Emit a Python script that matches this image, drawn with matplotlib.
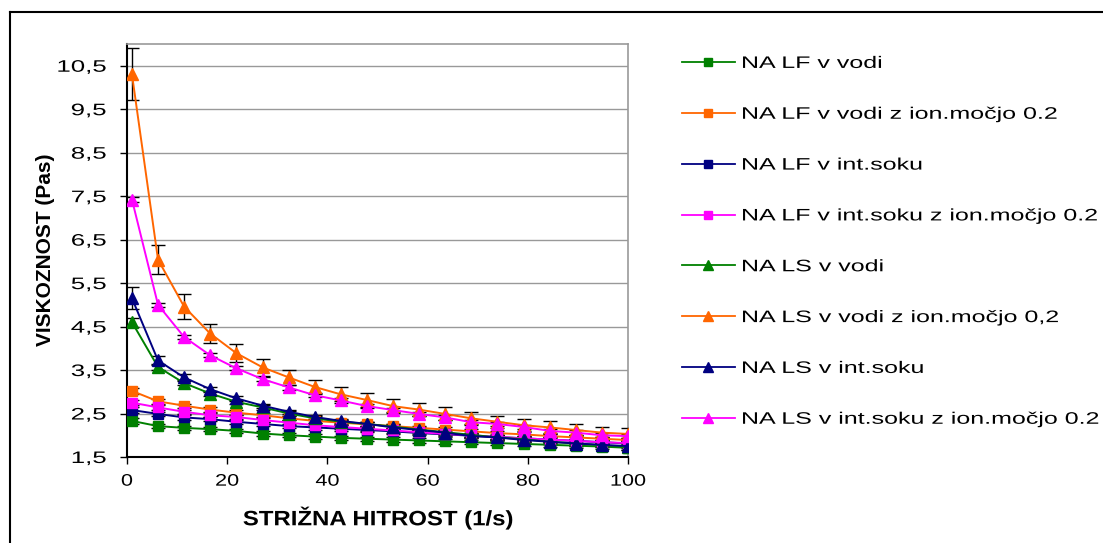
import matplotlib.pyplot as plt
from matplotlib.lines import Line2D
from matplotlib.patheffects import AbstractPathEffect
from matplotlib.transforms import Affine2D

plt.rcParams['font.family'] = ['Liberation Sans', 'DejaVu Sans']

# strižna hitrost (1/s)
shear_rate = [1.0, 6.2, 11.4, 16.6, 21.8, 27.1, 32.3, 37.5, 42.7, 47.9,
              53.1, 58.3, 63.5, 68.7, 73.9, 79.2, 84.4, 89.6, 94.8, 100.0]

# viskoznost (Pa s) - LF serije (kvadrati)
lf_voda = [2.33, 2.21, 2.17, 2.14, 2.10, 2.04, 2.00, 1.97, 1.94, 1.92,
           1.90, 1.88, 1.86, 1.84, 1.82, 1.80, 1.78, 1.76, 1.74, 1.71]
lf_voda_ion = [3.02, 2.78, 2.68, 2.59, 2.52, 2.46, 2.39, 2.33, 2.29, 2.25,
               2.21, 2.17, 2.13, 2.09, 2.05, 2.02, 1.98, 1.95, 1.92, 1.89]
lf_sok = [2.58, 2.49, 2.41, 2.37, 2.31, 2.26, 2.21, 2.18, 2.15, 2.12,
          2.09, 2.05, 2.02, 1.99, 1.96, 1.93, 1.90, 1.87, 1.84, 1.81]
lf_sok_ion = [2.75, 2.64, 2.54, 2.46, 2.42, 2.35, 2.29, 2.23, 2.19, 2.15,
              2.11, 2.07, 2.03, 2.00, 1.96, 1.93, 1.90, 1.87, 1.84, 1.82]

# LS serije (trikotniki)
ls_voda = [4.60, 3.57, 3.20, 2.96, 2.77, 2.64, 2.50, 2.39, 2.31, 2.26,
           2.20, 2.13, 2.07, 2.01, 1.95, 1.91, 1.85, 1.81, 1.77, 1.72]
ls_voda_ion = [10.30, 6.04, 4.96, 4.34, 3.89, 3.56, 3.33, 3.11, 2.94, 2.81,
               2.67, 2.59, 2.49, 2.39, 2.31, 2.23, 2.18, 2.12, 2.06, 2.03]
ls_sok = [5.15, 3.72, 3.33, 3.06, 2.85, 2.68, 2.54, 2.42, 2.33, 2.26,
          2.18, 2.12, 2.06, 1.98, 1.95, 1.89, 1.85, 1.81, 1.78, 1.75]
ls_sok_ion = [7.42, 5.00, 4.26, 3.84, 3.54, 3.29, 3.10, 2.92, 2.80, 2.67,
              2.58, 2.49, 2.41, 2.30, 2.26, 2.19, 2.10, 2.06, 2.00, 1.98]

# standardni odkloni
err_small = [0.06, 0.05, 0.05, 0.05, 0.05, 0.05, 0.05, 0.05, 0.05, 0.05,
             0.05, 0.05, 0.05, 0.05, 0.05, 0.05, 0.05, 0.05, 0.05, 0.05]
err_ls_voda_ion = [0.60, 0.34, 0.28, 0.22, 0.20, 0.20, 0.17, 0.16, 0.16, 0.16,
                   0.16, 0.15, 0.15, 0.15, 0.14, 0.14, 0.14, 0.14, 0.13, 0.13]
err_ls_sok = [0.25, 0.10, 0.07, 0.06, 0.06, 0.05, 0.05, 0.05, 0.05, 0.05,
              0.05, 0.05, 0.05, 0.05, 0.05, 0.05, 0.05, 0.05, 0.05, 0.05]
err_ls_voda = [0.10, 0.06, 0.05, 0.05, 0.05, 0.05, 0.05, 0.05, 0.05, 0.05,
               0.05, 0.05, 0.05, 0.05, 0.05, 0.05, 0.05, 0.05, 0.05, 0.05]

series = [
    ("NA LF v vodi", lf_voda, err_small, "#008000", "s"),
    ("NA LF v vodi z ion.močjo 0.2", lf_voda_ion, err_small, "#FF6600", "s"),
    ("NA LF v int.soku", lf_sok, err_small, "#000080", "s"),
    ("NA LF v int.soku z ion.močjo 0.2", lf_sok_ion, err_small, "#FF00FF", "s"),
    ("NA LS v vodi", ls_voda, err_ls_voda, "#008000", "^"),
    ("NA LS v vodi z ion.močjo 0,2", ls_voda_ion, err_ls_voda_ion, "#FF6600", "^"),
    ("NA LS v int.soku", ls_sok, err_ls_sok, "#000080", "^"),
    ("NA LS v int.soku z ion.močjo 0.2", ls_sok_ion, err_small, "#FF00FF", "^"),
]


class WideText(AbstractPathEffect):
    """Raztegne besedilo v vodoravni smeri okoli izbrane točke."""

    def __init__(self, sx, anchor=0.0):
        super().__init__()
        self.sx = sx
        self.anchor = anchor

    def draw_path(self, renderer, gc, tpath, affine, rgbFace=None):
        ext = tpath.get_extents(affine)
        x0 = ext.x0 + self.anchor * ext.width
        stretch = Affine2D().translate(-x0, 0).scale(self.sx, 1).translate(x0, 0)
        renderer.draw_path(gc, tpath, affine + stretch, rgbFace)


fig = plt.figure(figsize=(11.03, 5.43), dpi=100)
ax = fig.add_axes([0.1151, 0.1584, 0.4543, 0.7606])

handles = []
for i, (label, vals, err, color, marker) in enumerate(series):
    ms = 7 if marker == "s" else 8.5
    ax.errorbar(shear_rate, vals, yerr=err, fmt="none", ecolor="black",
                elinewidth=1.0, capsize=5, capthick=1.0, zorder=3 + i * 0.1)
    ax.plot(shear_rate, vals, color=color, lw=1.4, marker=marker, ms=ms,
            mec=color, mfc=color, zorder=4 + i * 0.1)
    handles.append(Line2D([], [], color=color, lw=1.3, marker=marker,
                          ms=6 if marker == "s" else 7, mec=color, mfc=color,
                          label=label))

ax.set_xlim(0, 100)
ax.set_ylim(1.5, 11)
ax.set_xticks([0, 20, 40, 60, 80, 100])
yt = [1.5, 2.5, 3.5, 4.5, 5.5, 6.5, 7.5, 8.5, 9.5, 10.5]
ax.set_yticks(yt)
ax.set_yticklabels([f"{v:.1f}".replace(".", ",") for v in yt])
ax.tick_params(axis="both", labelsize=12, length=5, width=1, direction="out",
               color="black")
ax.tick_params(axis="y", pad=10)
ax.tick_params(axis="x", pad=7)
for t in ax.get_yticklabels():
    t.set_path_effects([WideText(1.55, anchor=1.0)])
for t in ax.get_xticklabels():
    t.set_path_effects([WideText(1.3, anchor=0.5)])

ax.yaxis.grid(True, color="#999999", lw=1)
ax.set_axisbelow(True)
for side in ["left", "bottom"]:
    ax.spines[side].set_color("black")
    ax.spines[side].set_linewidth(1.5)
for side in ["top", "right"]:
    ax.spines[side].set_color("#999999")
    ax.spines[side].set_linewidth(1.2)

# naslova osi
xl = fig.text(0.343, 0.046, "STRIŽNA HITROST (1/s)", fontsize=15,
              fontweight="bold", ha="center", va="center")
xl.set_path_effects([WideText(1.15, anchor=0.5)])
fig.text(0.0417, 0.5396, "VISKOZNOST (Pas)", fontsize=15, fontweight="bold",
         rotation=90, ha="center", va="center")

leg = fig.legend(handles=handles, loc="upper left", bbox_to_anchor=(0.618, 0.897),
                 frameon=False, fontsize=12, handlelength=3.2, handletextpad=0.4,
                 labelspacing=2.15, numpoints=1, borderpad=0, borderaxespad=0)
for t in leg.get_texts():
    t.set_path_effects([WideText(1.5, anchor=0.0)])

# okvir grafikona
fig.add_artist(Line2D([0.009, 0.009], [0.0, 0.978], color="black", lw=1.5,
                      transform=fig.transFigure))
fig.add_artist(Line2D([0.009, 1.0], [0.978, 0.978], color="black", lw=1.5,
                      transform=fig.transFigure))

fig.savefig("out.png", dpi=100)
